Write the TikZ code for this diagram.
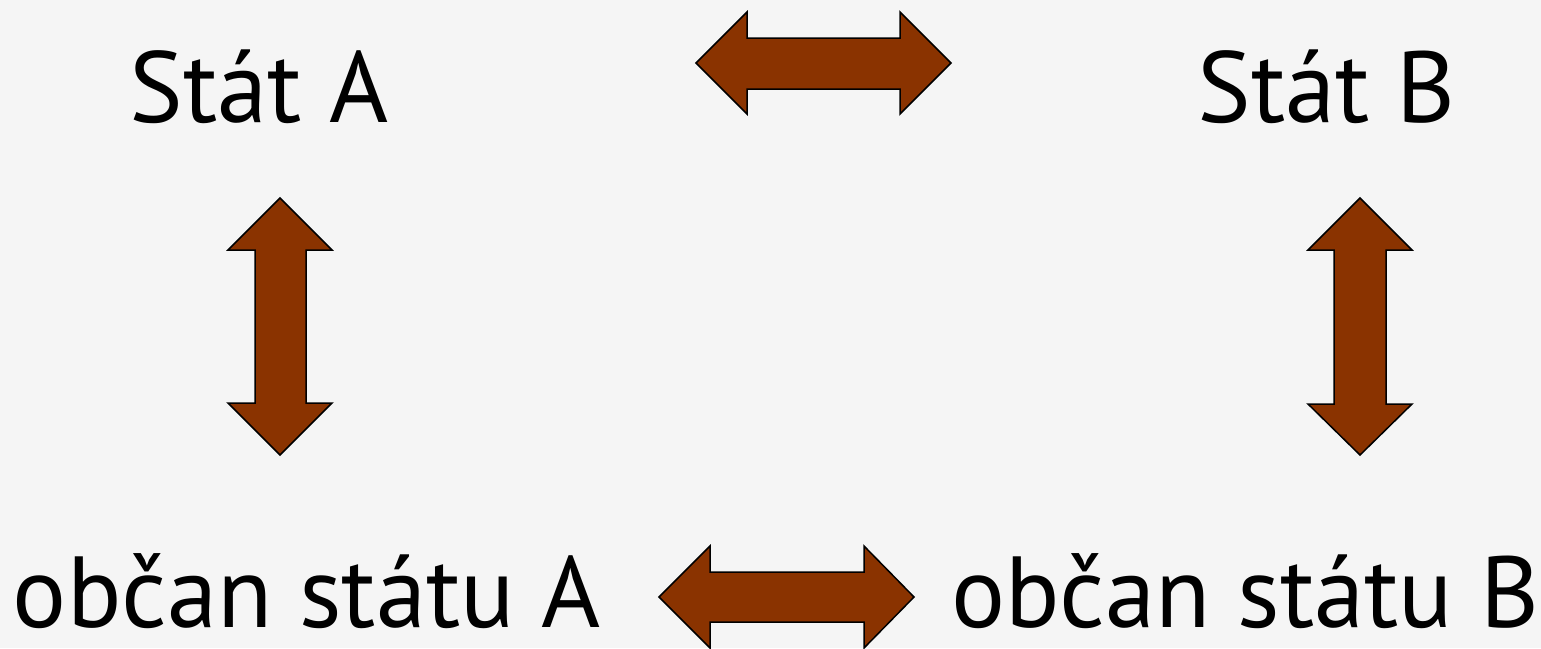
\documentclass[tikz,border=0pt]{standalone}
\usepackage{fontspec}
\setmainfont{PT Sans}
\definecolor{bg}{HTML}{F5F5F5}
\definecolor{arrowbrown}{HTML}{8A3300}
\tikzset{
  dbl/.style={fill=arrowbrown, draw=black, line width=1.5pt, line join=miter},
  lbl/.style={anchor=base, inner sep=0pt, font=\fontsize{101}{101}\selectfont}
}
\begin{document}
\begin{tikzpicture}[x=1pt,y=-1pt]
\fill[bg] (0,0) rectangle (1541,648);
\useasboundingbox (0,0) rectangle (1541,648);
\node[lbl] (sa) at (259,122) {Stát A};
\node[lbl] (sb) at (1326.5,122) {Stát B};
\node[lbl] (oa) at (307,627) {občan státu A};
\node[lbl] (ob) at (1245,627) {občan státu B};
% top horizontal
\draw[dbl] (696,63) -- (747,12) -- (747,38) -- (900,38) -- (900,12) -- (951,63) -- (900,114) -- (900,89) -- (747,89) -- (747,114) -- cycle;
% bottom horizontal
\draw[dbl] (659,597) -- (710,546) -- (710,572) -- (864,572) -- (864,546) -- (914,597) -- (864,648) -- (864,622) -- (710,622) -- (710,648) -- cycle;
% left vertical
\draw[dbl] (280,198) -- (332,250) -- (306,250) -- (306,403) -- (332,403) -- (280,455) -- (228,403) -- (255,403) -- (255,250) -- (228,250) -- cycle;
% right vertical
\draw[dbl] (1360,198) -- (1412,250) -- (1386,250) -- (1386,404) -- (1412,404) -- (1360,455) -- (1308,404) -- (1334,404) -- (1334,250) -- (1308,250) -- cycle;
\end{tikzpicture}
\end{document}
